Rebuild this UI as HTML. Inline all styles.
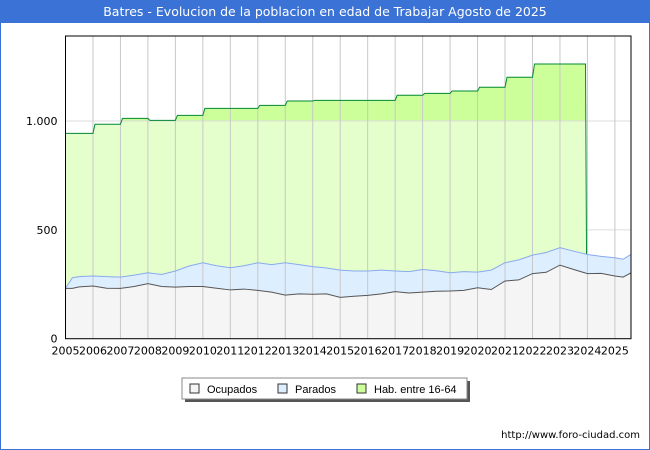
<!DOCTYPE html>
<html><head><meta charset="utf-8"><style>
body{margin:0;background:#fff;font-family:"DejaVu Sans","Liberation Sans",sans-serif}
#wrap{position:relative;width:648px;height:448px;border:1px solid #3a72d6;overflow:hidden}
#title{height:22px;background:#3a72d6;color:#fff;font-size:12.5px;text-align:center;line-height:22px}
</style></head><body>
<div id="wrap">
<div id="title">Batres - Evolucion de la poblacion en edad de Trabajar Agosto de 2025</div>
<svg id="svg" width="650" height="428" style="position:absolute;left:-1px;top:22px;font-family:'DejaVu Sans',sans-serif"></svg>
</div>
<script>
const habYears=[2005,2006,2007,2008,2009,2010,2011,2012,2013,2014,2015,2016,2017,2018,2019,2020,2021,2022,2023];
const habValues=[943,985,1012,1003,1026,1058,1058,1072,1092,1095,1095,1095,1118,1127,1138,1155,1201,1262,1262];
const serTimes=[2005,2005.25,2005.5,2006,2006.5,2007,2007.5,2008,2008.5,2009,2009.5,2010,2010.5,2011,2011.5,2012,2012.5,2013,2013.5,2014,2014.5,2015,2015.5,2016,2016.5,2017,2017.5,2018,2018.5,2019,2019.5,2020,2020.5,2021,2021.5,2022,2022.5,2023,2023.5,2024,2024.5,2025,2025.3,2025.58];
const ocupados=[231,231,238,242,232,231,240,253,240,237,240,240,232,224,228,222,214,200,206,204,206,190,195,199,206,216,210,214,218,219,222,234,226,265,270,299,305,338,318,299,300,288,283,302];
const parados=[231,280,285,288,285,283,292,303,295,311,334,349,335,326,335,349,340,349,340,331,325,315,311,311,315,311,308,318,312,303,308,306,315,349,362,384,396,418,402,387,378,372,365,387];
const yTicks=[0,500,1000];
const yLabels=["0","500","1.000"];
const xYears=[2005,2006,2007,2008,2009,2010,2011,2012,2013,2014,2015,2016,2017,2018,2019,2020,2021,2022,2023,2024,2025];
const NS="http://www.w3.org/2000/svg";
const svg=document.getElementById('svg');
const L=65.5,R=631,T=13,B=315.7;
const X=t=>L+(t-2005)*27.47;
const Y=v=>B-v*0.2177;
function mk(tag,a,p){const e=document.createElementNS(NS,tag);for(const k in a)e.setAttribute(k,a[k]);(p||svg).appendChild(e);return e;}
yTicks.forEach((v,i)=>{
 const g=mk('line',{x1:L,x2:R,y1:Y(v),y2:Y(v),stroke:'#ddd'});
 
 
 const t=mk('text',{x:L-8,y:Y(v)+4,'text-anchor':'end','font-size':11,fill:'#000'});t.textContent=yLabels[i];
 
 
});
const endX=X(2023.93);
let hp=`M${X(habYears[0])},${Y(0)}`;
let hl=`M${X(habYears[0])},${Y(habValues[0])}`;
habYears.forEach((yr,i)=>{const x0=X(yr)+(i?2:0);const x1=i<habYears.length-1?X(yr+1):endX;hp+=` L${x0},${Y(habValues[i])} L${x1},${Y(habValues[i])}`;hl+=` L${x0},${Y(habValues[i])} L${x1},${Y(habValues[i])}`;});
hp+=` L${endX},${Y(0)} Z`;
hl+=` L${endX+1},${Y(parados[39])}`;
mk('clipPath',{id:'hi'});mk('rect',{x:L,y:0,width:R-L,height:Y(1000)},svg.lastChild);
mk('clipPath',{id:'lo'});mk('rect',{x:L,y:Y(1000),width:R-L,height:B-Y(1000)},svg.lastChild);
const h1=mk('path',{d:hp,fill:'#ccff99','clip-path':'url(#hi)'});


const h2=mk('path',{d:hp,fill:'#e5ffcc','clip-path':'url(#lo)'});


mk('line',{x1:L,x2:endX,y1:Y(1000),y2:Y(1000),stroke:'#ddd'});
const pl=serTimes.map((t,i)=>`${X(t)},${Y(parados[i])}`).join(' L');
const ol=serTimes.map((t,i)=>`${X(t)},${Y(ocupados[i])}`).join(' L');
const pa=mk('path',{d:`M${X(2005)},${Y(0)} L${pl} L${R},${Y(0)} Z`,fill:'#ddeeff'});


const oa=mk('path',{d:`M${X(2005)},${Y(0)} L${ol} L${R},${Y(0)} Z`,fill:'#f5f5f5'});


xYears.forEach(yr=>{
 const g=mk('line',{x1:X(yr),x2:X(yr),y1:T,y2:B,stroke:'#c8c8c8'});
 
 
 const t=mk('text',{x:X(yr),y:B+16,'text-anchor':'middle','font-size':11,fill:'#000'});t.textContent=yr;
 
 
});
const hln=mk('path',{d:hl,fill:'none',stroke:'#008833','stroke-width':1});


const pln=mk('path',{d:'M'+pl,fill:'none',stroke:'#88aaee'});


const oln=mk('path',{d:'M'+ol,fill:'none',stroke:'#555'});


mk('rect',{x:L,y:T,width:R-L,height:B-T,fill:'none',stroke:'#000'});
const lg=mk('g',{});


mk('rect',{x:185,y:358,width:285,height:21,fill:'#555'},lg);
mk('rect',{x:182,y:355,width:285,height:21,fill:'#fff',stroke:'#888'},lg);
const items=[["Ocupados","#f5f5f5",190],["Parados","#ddeeff",278],["Hab. entre 16-64","#ccff99",357]];
items.forEach(it=>{
 const e=mk('g',{},lg);
 
 
 mk('rect',{x:it[2],y:361,width:9,height:9,fill:it[1],stroke:'#333'},e);
 const t=mk('text',{x:it[2]+17,y:370,'font-size':11,'font-family':'Liberation Sans, sans-serif'},e);t.textContent=it[0];
});
const u=mk('text',{x:640,y:415,'text-anchor':'end','font-size':10});u.textContent='http://www.foro-ciudad.com';


</script>
</body></html>
